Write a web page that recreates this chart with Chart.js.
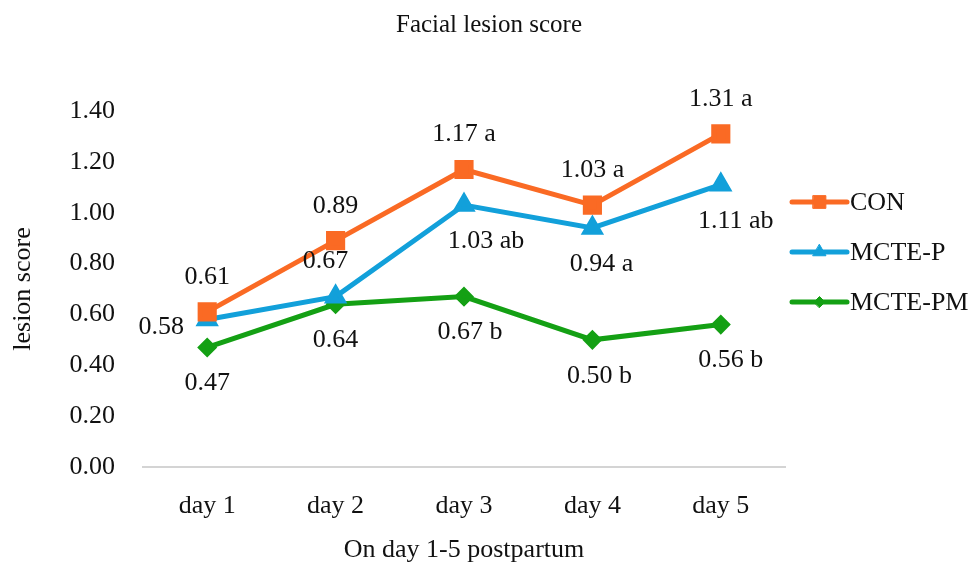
<!DOCTYPE html>
<html>
<head>
<meta charset="utf-8">
<title>Facial lesion score</title>
<script src="https://cdn.jsdelivr.net/npm/chart.js"></script>
<style>
  body { margin: 0; background: #fff; }
  .wrap { width: 978px; height: 569px; }
</style>
</head>
<body>
<div class="wrap"><canvas id="chart"></canvas></div>
<script>
const days = ['day 1', 'day 2', 'day 3', 'day 4', 'day 5'];
const conValues = [0.61, 0.89, 1.17, 1.03, 1.31];
const mctePValues = [0.58, 0.67, 1.03, 0.94, 1.11];
const mctePMValues = [0.47, 0.64, 0.67, 0.50, 0.56];
const conText = ['0.61', '0.89', '1.17 a', '1.03 a', '1.31 a'];
const mctePText = ['0.58', '0.67', '1.03 ab', '0.94 a', '1.11 ab'];
const mctePMText = ['0.47', '0.64', '0.67 b', '0.50 b', '0.56 b'];

const FONT = '"Liberation Serif", "Times New Roman", serif';
const TEXT = '#111';

// value labels next to each point
const pointLabels = {
  id: 'pointLabels',
  afterDatasetsDraw(chart) {
    const ctx = chart.ctx;
    ctx.save();
    ctx.font = '26px ' + FONT;
    ctx.fillStyle = TEXT;
    ctx.textAlign = 'center';
    ctx.textBaseline = 'middle';
    chart.data.datasets.forEach((ds, i) => {
      chart.getDatasetMeta(i).data.forEach((pt, j) => {
        let x = pt.x + (ds.labelDx ? ds.labelDx[j] : 0);
        let y = pt.y;
        const pos = ds.labelPos[j];
        if (pos === 'above') y -= 35;
        else if (pos === 'below') y += 36;
        else if (pos === 'left') { x -= 46; y += 8; }
        ctx.fillText(ds.pointText[j], x, y);
      });
    });
    ctx.restore();
  }
};

// legend on the right: line with marker, then name
const sideLegend = {
  id: 'sideLegend',
  afterDraw(chart) {
    const ctx = chart.ctx;
    const x0 = 792, x1 = 847;
    let y = 202;
    chart.data.datasets.forEach(ds => {
      ctx.save();
      ctx.strokeStyle = ds.borderColor;
      ctx.lineWidth = 5;
      ctx.lineCap = 'round';
      ctx.beginPath();
      ctx.moveTo(x0, y);
      ctx.lineTo(x1, y);
      ctx.stroke();
      ctx.fillStyle = ds.borderColor;
      ctx.strokeStyle = ds.borderColor;
      ctx.lineWidth = 1;
      Chart.helpers.drawPoint(ctx, { pointStyle: ds.pointStyle, radius: ds.pointRadius - 1, rotation: 0, borderWidth: 1 }, (x0 + x1) / 2, y);
      ctx.font = '26px ' + FONT;
      ctx.fillStyle = TEXT;
      ctx.textAlign = 'left';
      ctx.textBaseline = 'middle';
      ctx.fillText(ds.label, x1 + 3, y + 1);
      ctx.restore();
      y += 50;
    });
  }
};

new Chart(document.getElementById('chart'), {
  type: 'line',
  data: {
    labels: days,
    datasets: [
      {
        label: 'CON',
        data: conValues,
        pointText: conText,
        labelPos: ['above', 'above', 'above', 'above', 'above'],
        borderColor: '#FA6A24',
        backgroundColor: '#FA6A24',
        pointStyle: 'rect',
        pointRadius: 10,
        borderWidth: 5
      },
      {
        label: 'MCTE-P',
        data: mctePValues,
        pointText: mctePText,
        labelPos: ['left', 'above', 'below', 'below', 'below'],
        labelDx: [0, -10, 22, 9, 15],
        borderColor: '#12A0DA',
        backgroundColor: '#12A0DA',
        pointStyle: 'triangle',
        pointRadius: 8.5,
        borderWidth: 5
      },
      {
        label: 'MCTE-PM',
        data: mctePMValues,
        pointText: mctePMText,
        labelPos: ['below', 'below', 'below', 'below', 'below'],
        labelDx: [0, 0, 6, 7, 10],
        borderColor: '#14A014',
        backgroundColor: '#14A014',
        pointStyle: 'rectRot',
        pointRadius: 6.5,
        borderWidth: 5
      }
    ]
  },
  options: {
    responsive: true,
    maintainAspectRatio: false,
    animation: false,
    plugins: {
      legend: { display: false },
      tooltip: { enabled: false },
      title: {
        display: true,
        text: 'Facial lesion score',
        color: TEXT,
        font: { family: FONT, size: 25, weight: 'normal' },
        padding: { top: 10, bottom: 71 }
      }
    },
    scales: {
      x: {
        offset: true,
        grid: { display: false, drawTicks: false },
        border: { display: true, color: '#d4d4d4', width: 2 },
        ticks: { color: TEXT, font: { family: FONT, size: 26 }, padding: 24 },
        title: {
          display: true,
          text: 'On day 1-5 postpartum',
          color: TEXT,
          font: { family: FONT, size: 26 },
          padding: { top: 4, bottom: 3 }
        },
        afterFit: s => { s.height = 102; }
      },
      y: {
        min: 0,
        max: 1.4,
        grid: { display: false, drawTicks: false },
        border: { display: false },
        ticks: {
          stepSize: 0.2,
          color: TEXT,
          font: { family: FONT, size: 26 },
          padding: 28,
          callback: v => v.toFixed(2)
        },
        title: {
          display: true,
          text: 'lesion score',
          color: TEXT,
          font: { family: FONT, size: 26 },
          padding: { top: 8, bottom: 8 }
        },
        afterFit: s => { s.width = 143; }
      },
      // empty right-hand box that leaves room for the legend
      legendSpace: {
        type: 'linear',
        position: 'right',
        grid: { display: false, drawTicks: false },
        border: { display: false },
        ticks: { display: false },
        afterFit: s => { s.width = 193; }
      }
    }
  },
  plugins: [pointLabels, sideLegend]
});
</script>
</body>
</html>
